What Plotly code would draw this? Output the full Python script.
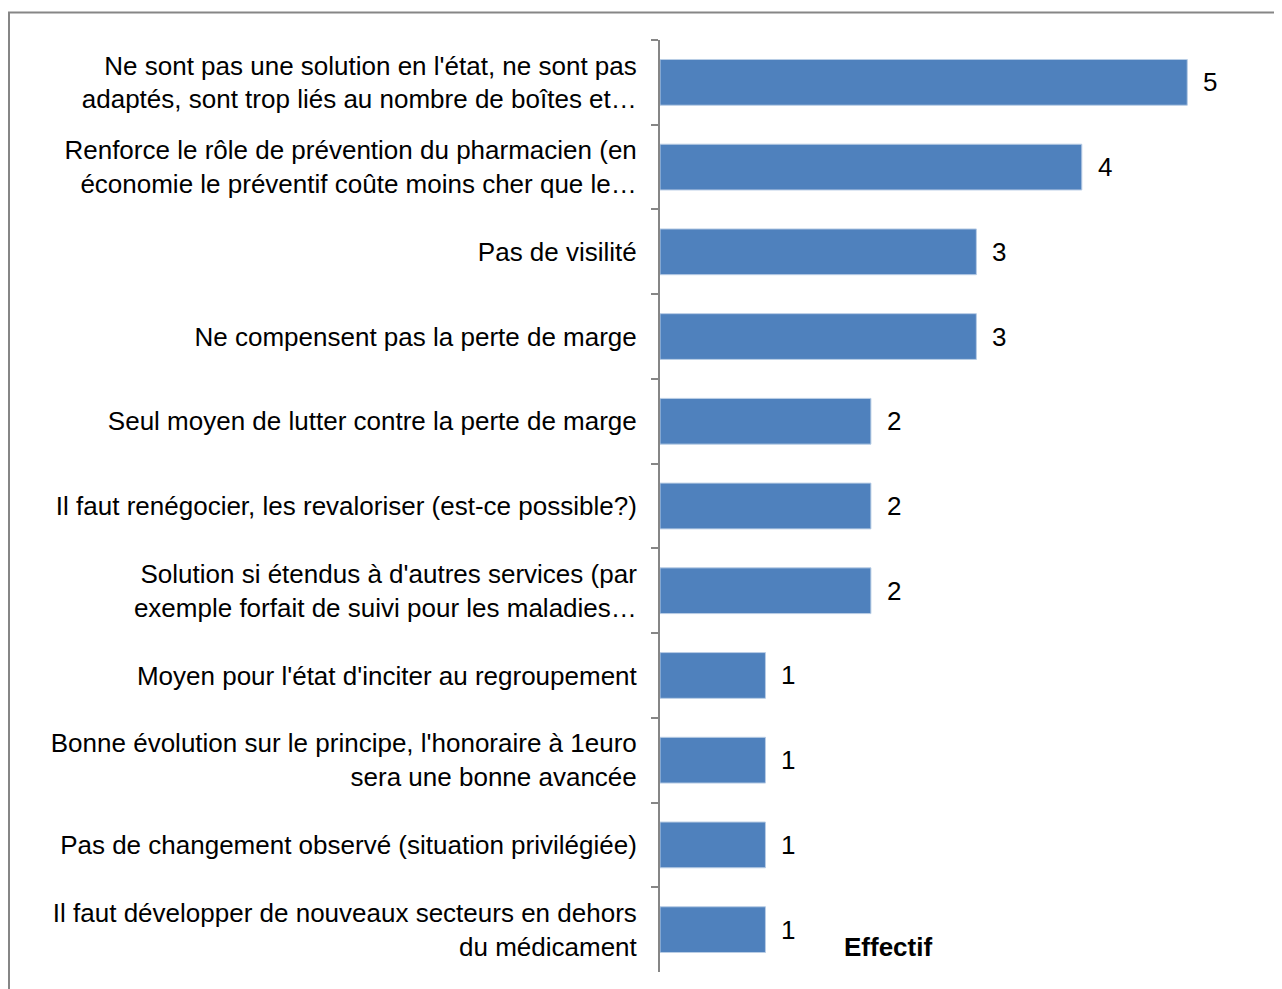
import plotly.graph_objects as go

categories = [
    "Ne sont pas une solution en l'état, ne sont pas<br>adaptés, sont trop liés au nombre de boîtes et…",
    "Renforce le rôle de prévention du pharmacien (en<br>économie le préventif coûte moins cher que le…",
    "Pas de visilité",
    "Ne compensent pas la perte de marge",
    "Seul moyen de lutter contre la perte de marge",
    "Il faut renégocier, les revaloriser (est-ce possible?)",
    "Solution si étendus à d'autres services (par<br>exemple forfait de suivi pour les maladies…",
    "Moyen pour l'état d'inciter au regroupement",
    "Bonne évolution sur le principe, l'honoraire à 1euro<br>sera une bonne avancée",
    "Pas de changement observé (situation privilégiée)",
    "Il faut développer de nouveaux secteurs en dehors<br>du médicament",
]
values = [5, 4, 3, 3, 2, 2, 2, 1, 1, 1, 1]
axis_title = "Effectif"

FONT = "Liberation Sans, Arial, sans-serif"
FS = 26

# page body has an 8px margin; work in screen pixels and convert
OFF = 8
W, H = 1282, 989
L = 660 - OFF
T = 40 - OFF
PB = 972 - OFF   # plot bottom in figure px
PR = 1240 - OFF  # plot right in figure px
R = W - PR
B = H - PB
pw, ph = PR - L, PB - T

def px2x(sx):
    return (sx - OFF - L) / pw

def py2y(sy):
    return (PB - (sy - OFF)) / ph

fig = go.Figure()
fig.add_trace(go.Bar(
    x=values, y=categories, orientation="h",
    marker=dict(color="#4F81BD", line=dict(color="#B9CDE5", width=1)),
    hoverinfo="skip",
))

for c, v in zip(categories, values):
    fig.add_annotation(x=v, y=c, text=str(v), showarrow=False, xanchor="left", yanchor="middle",
                       xshift=14, font=dict(family=FONT, size=FS, color="#000000"))

fig.add_annotation(x=px2x(888), y=py2y(947), xref="paper", yref="paper",
                   xanchor="center", yanchor="middle",
                   text="<b>" + axis_title + "</b>",
                   showarrow=False, font=dict(family=FONT, size=FS, color="#000000"))

fig.add_shape(type="rect", xref="paper", yref="paper",
              x0=px2x(9), x1=px2x(1330), y0=py2y(1030), y1=py2y(12.5),
              line=dict(color="#868686", width=2), fillcolor="rgba(0,0,0,0)", layer="below")

fig.update_layout(
    width=W, height=H,
    margin=dict(l=L, r=R, t=T, b=B, pad=0),
    paper_bgcolor="white", plot_bgcolor="white",
    bargap=0.46, showlegend=False,
    font=dict(family=FONT, size=FS, color="#000000"),
    xaxis=dict(range=[0, 5.5], showgrid=False, zeroline=False, showticklabels=False,
               showline=False, ticks=""),
    yaxis=dict(type="category", autorange="reversed", tickson="boundaries",
               ticks="outside", ticklen=7, tickcolor="#868686", tickwidth=2,
               showline=True, linecolor="#868686", linewidth=2, showgrid=False,
               ticklabelstandoff=16,
               tickfont=dict(family=FONT, size=FS, color="#000000")),
)

fig.write_html("out.html")
